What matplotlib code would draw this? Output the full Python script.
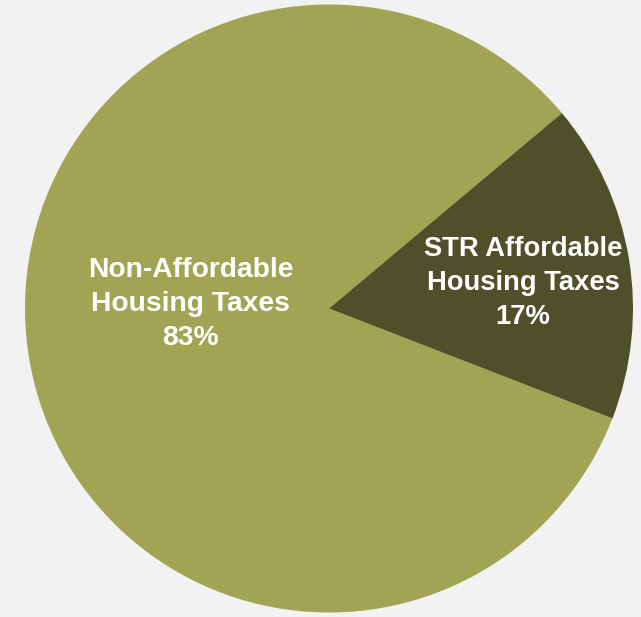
import matplotlib

matplotlib.use("Agg")
import matplotlib.pyplot as plt

# share of taxes
categories = ["Non-Affordable\nHousing Taxes", "STR Affordable\nHousing Taxes"]
shares = [83, 17]
colors = ["#A2A453", "#4F4F2A"]
label_pos = [(-0.455, 0.016), (0.638, 0.083)]
label_size = [20.3, 19.7]

fig = plt.figure(figsize=(6.41, 6.17), dpi=100)
fig.patch.set_facecolor("#F2F2F2")

# place the pie in pixel terms: centre (329, 308.5), radius 304
ax = fig.add_axes([(329 - 304) / 641, (308.5 - 304) / 617, 608 / 641, 608 / 617])
ax.set_facecolor("#F2F2F2")

ax.pie(
    shares,
    colors=colors,
    startangle=40,
    counterclock=True,
    radius=1.0,
    wedgeprops={"linewidth": 0},
)

for name, val, (x, y), fs in zip(categories, shares, label_pos, label_size):
    ax.text(
        x,
        y,
        f"{name}\n{val}%",
        ha="center",
        va="center",
        color="white",
        fontsize=fs,
        fontweight="bold",
        family="Liberation Sans",
        linespacing=1.4,
    )

ax.set_xlim(-1, 1)
ax.set_ylim(-1, 1)
ax.set_aspect("auto")
ax.axis("off")

fig.savefig("out.png", dpi=100, facecolor=fig.get_facecolor())
